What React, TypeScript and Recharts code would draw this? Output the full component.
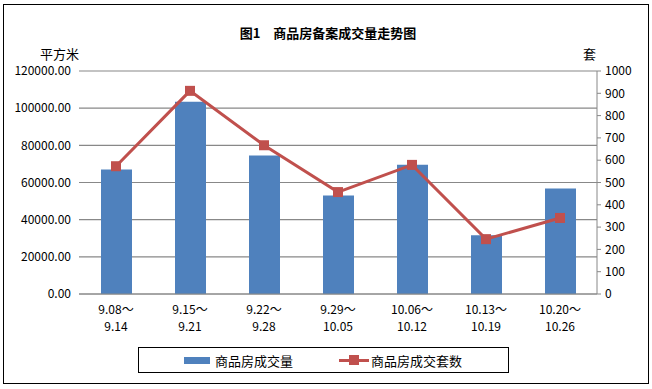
import { ComposedChart, Bar, Line, XAxis, YAxis, CartesianGrid } from 'recharts';

const periods = ['9.08～9.14', '9.15～9.21', '9.22～9.28', '9.29～10.05', '10.06～10.12', '10.13～10.19', '10.20～10.26'];
const areaSold = [67000, 103400, 74500, 53000, 69600, 31600, 56800];
const unitsSold = [573, 911, 667, 457, 579, 246, 341];
const leftTicks = [0, 20000, 40000, 60000, 80000, 100000, 120000];
const rightTicks = [0, 100, 200, 300, 400, 500, 600, 700, 800, 900, 1000];

const data = periods.map((p, i) => ({ period: p, area: areaSold[i], units: unitsSold[i] }));

const FONT = '"Noto Sans CJK SC", "Noto Sans", sans-serif';
const BLUE = '#4F81BD';
const RED = '#C0504D';

const PeriodTick = ({ x, payload }: any) => {
  const [a, b] = String(payload.value).split('～');
  return (
    <g transform={`translate(${x},294)`}>
      <text x={0} y={20} textAnchor="middle" fill="#000" style={{ fontSize: 12, fontFamily: FONT }}>{a + '～'}</text>
      <text x={0} y={37} textAnchor="middle" fill="#000" style={{ fontSize: 12, fontFamily: FONT }}>{b}</text>
    </g>
  );
};

const SquareDot = ({ cx, cy }: any) => (
  <rect x={cx - 5} y={cy - 5} width={10} height={10} fill={RED} />
);

export default function App() {
  return (
    <div style={{ position: 'absolute', left: 0, top: 0, width: 652, height: 389, background: '#fff', fontFamily: FONT }}>
      <div style={{ position: 'absolute', left: 3, top: 4, width: 644, height: 378, border: '1.5px solid #000' }} />
      <div style={{ position: 'absolute', left: 0, width: 656, top: 23, textAlign: 'center', fontSize: 13, fontWeight: 'bold' }}>
        图1　商品房备案成交量走势图
      </div>
      <div style={{ position: 'absolute', left: 40, top: 44, fontSize: 13 }}>平方米</div>
      <div style={{ position: 'absolute', left: 583, top: 44, fontSize: 13 }}>套</div>
      <ComposedChart width={652} height={389} data={data} margin={{ top: 71, right: 10, left: 9, bottom: 45 }} barSize={31}>
        <CartesianGrid yAxisId="left" vertical={false} stroke="#888" strokeWidth={1.2} />
        <XAxis dataKey="period" interval={0} height={50} tickLine={false} axisLine={{ stroke: '#888' }} tick={<PeriodTick />} />
        <YAxis
          yAxisId="left"
          width={70}
          domain={[0, 120000]}
          ticks={leftTicks}
          axisLine={false}
          tickLine={false}
          tickFormatter={(v: number) => v.toFixed(2)}
          tick={{ fontSize: 12, fill: '#000', fontFamily: FONT }}
        />
        <YAxis
          yAxisId="right"
          orientation="right"
          width={45}
          domain={[0, 1000]}
          ticks={rightTicks}
          interval={0}
          tickSize={4}
          tickMargin={4}
          axisLine={{ stroke: '#888' }}
          tickLine={{ stroke: '#888' }}
          tick={{ fontSize: 12, fill: '#000', fontFamily: FONT, textAnchor: 'start' }}
        />
        <Bar yAxisId="left" dataKey="area" fill={BLUE} isAnimationActive={false} />
        <Line yAxisId="right" dataKey="units" stroke={RED} strokeWidth={3} dot={<SquareDot />} activeDot={false} isAnimationActive={false} />
      </ComposedChart>
      <div style={{ position: 'absolute', left: 138, top: 347, width: 369, height: 24, border: '1.2px solid #000', fontSize: 13 }}>
        <div style={{ position: 'absolute', left: 45, top: 9, width: 26, height: 7, background: BLUE }} />
        <div style={{ position: 'absolute', left: 76, top: 3 }}>商品房成交量</div>
        <div style={{ position: 'absolute', left: 200, top: 11, width: 30, height: 3, background: RED }} />
        <div style={{ position: 'absolute', left: 210, top: 7, width: 10, height: 10, background: RED }} />
        <div style={{ position: 'absolute', left: 232, top: 3 }}>商品房成交套数</div>
      </div>
    </div>
  );
}
